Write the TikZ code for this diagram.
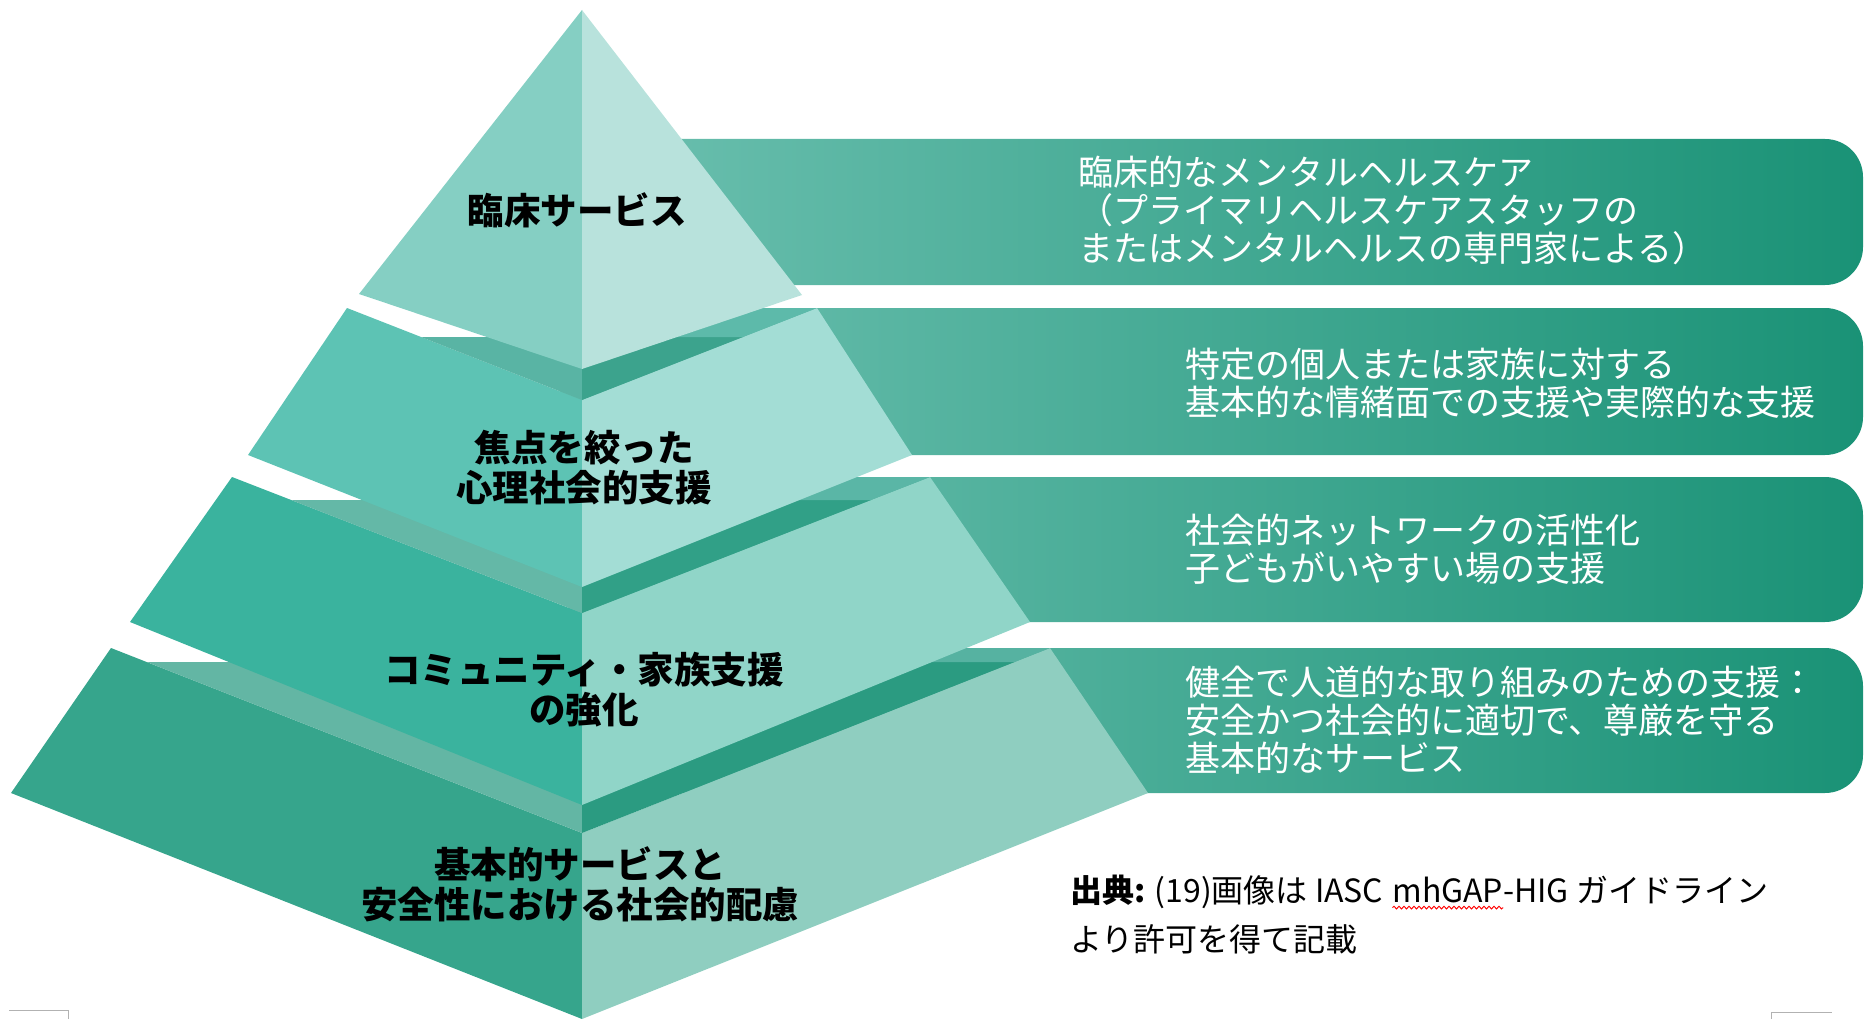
\documentclass[tikz,border=0pt]{standalone}
\usepackage{fontspec}
\newfontfamily\jp{Noto Sans CJK JP}
\usetikzlibrary{decorations.pathmorphing}
\definecolor{tAL}{HTML}{85CFC3}\definecolor{tAR}{HTML}{B8E2DC}
\definecolor{tBL}{HTML}{5DC3B4}\definecolor{tBR}{HTML}{A3DDD5}
\definecolor{tBFL}{HTML}{59B4A4}\definecolor{tBFD}{HTML}{3CA38D}\definecolor{tBFM}{HTML}{5DBAAA}
\definecolor{tCL}{HTML}{3AB39E}\definecolor{tCR}{HTML}{90D5C8}
\definecolor{tCFL}{HTML}{64B8A7}\definecolor{tCFD}{HTML}{31A087}\definecolor{tCFM}{HTML}{5AB6A6}
\definecolor{tDL}{HTML}{36A58C}\definecolor{tDR}{HTML}{8FCEC0}
\definecolor{tDFL}{HTML}{63B6A4}\definecolor{tDFD}{HTML}{2B9B81}\definecolor{tDFM}{HTML}{56B2A1}
\definecolor{boxL}{HTML}{6EC1B1}\definecolor{boxR}{HTML}{1A9276}
\begin{document}
\begin{tikzpicture}[x=1pt,y=-1pt,
  bandbox/.style={left color=boxL, right color=boxR, rounded corners=38pt},
  plabel/.style={font=\jp\bfseries\fontsize{36.5}{40}\selectfont, text=black, align=center, inner sep=0pt},
  blabel/.style={font=\jp\fontsize{35}{38}\selectfont, text=white, align=left, anchor=west, inner sep=0pt},
  captext/.style={font=\jp\fontsize{32}{47}\selectfont, text=black, inner sep=0pt, outer sep=0pt},
  cornermark/.style={draw=gray!60, line width=1pt}]
\useasboundingbox (0,0) rectangle (1864,1019);

% right-hand bands
\shade[bandbox] (560,139) rectangle (1863,285);
\shade[bandbox] (560,308) rectangle (1863,455);
\shade[bandbox] (560,477) rectangle (1863,622);
\shade[bandbox] (560,648) rectangle (1863,793);

% tier 4 (bottom)
\fill[tDL] (111,648) -- (582,833) -- (582,1019) -- (11,793) -- cycle;
\fill[tDR] (582,833) -- (1050,648) -- (1148,793) -- (582,1019) -- cycle;
\fill[tDFL] (146.6,662) -- (582,833) -- (582,662) -- cycle;
\fill[tDFD] (582,662) -- (582,833) -- (1014.6,662) -- cycle;
\fill[tDFM] (582,662) -- (1014.6,662) -- (1050,648) -- (582,648) -- cycle;

% tier 3
\fill[tCL] (232,477) -- (582,613) -- (582,805) -- (130,622) -- cycle;
\fill[tCR] (582,613) -- (930,477) -- (1030,622) -- (582,805) -- cycle;
\fill[tCFL] (291,500) -- (582,613) -- (582,500) -- cycle;
\fill[tCFD] (582,500) -- (582,613) -- (871,500) -- cycle;
\fill[tCFM] (582,500) -- (871,500) -- (930,477) -- (582,477) -- cycle;

% tier 2
\fill[tBL] (347,308) -- (582,400) -- (582,587) -- (248,455) -- cycle;
\fill[tBR] (582,400) -- (817,308) -- (912,455) -- (582,587) -- cycle;
\fill[tBFL] (421,337) -- (582,400) -- (582,337) -- cycle;
\fill[tBFD] (582,337) -- (582,400) -- (743,337) -- cycle;
\fill[tBFM] (582,337) -- (743,337) -- (817,308) -- (582,308) -- cycle;

% tier 1 (top)
\fill[tAL] (582,10) -- (359,294) -- (582,369) -- cycle;
\fill[tAR] (582,10) -- (802,295) -- (582,369) -- cycle;

% pyramid labels
\node[plabel] (l1) at (577,210) {臨床サービス};
\node[plabel] (l2) at (584,468) {焦点を絞った\\心理社会的支援};
\node[plabel] (l3) at (584,690) {コミュニティ・家族支援\\の強化};
\node[plabel] (l4) at (580,884) {基本的サービスと\\安全性における社会的配慮};

% band texts
\node[blabel] (b1) at (1078,210) {臨床的なメンタルヘルスケア\\（プライマリヘルスケアスタッフの\\またはメンタルヘルスの専門家による）};
\node[blabel] (b2) at (1185,383) {特定の個人または家族に対する\\基本的な情緒面での支援や実際的な支援};
\node[blabel] (b3) at (1185,549) {社会的ネットワークの活性化\\子どもがいやすい場の支援};
\node[blabel] (b4) at (1185,720) {健全で人道的な取り組みのための支援：\\安全かつ社会的に適切で、尊厳を守る\\基本的なサービス};

% caption
\node[captext, anchor=west] (c1) at (1070,892) {{\bfseries 出典:} (19)画像は IASC};
\node[captext, anchor=base west] (c2) at ([xshift=9pt]c1.base east) {mhGAP};
\node[captext, anchor=base west] (c3) at (c2.base east) {-HIG ガイドライン};
\node[captext, anchor=west] (c4) at (1070,939) {より許可を得て記載};
\draw[red, line width=0.9pt, decorate, decoration={snake, amplitude=1.3pt, segment length=5pt}]
  ([yshift=-5pt]c2.base west) -- ([yshift=-5pt]c2.base east);

% page corner marks
\draw[cornermark] (9,1010) -- (68,1010) -- (68,1019);
\draw[cornermark] (1771,1019) -- (1771,1012) -- (1832,1012);
\end{tikzpicture}
\end{document}
